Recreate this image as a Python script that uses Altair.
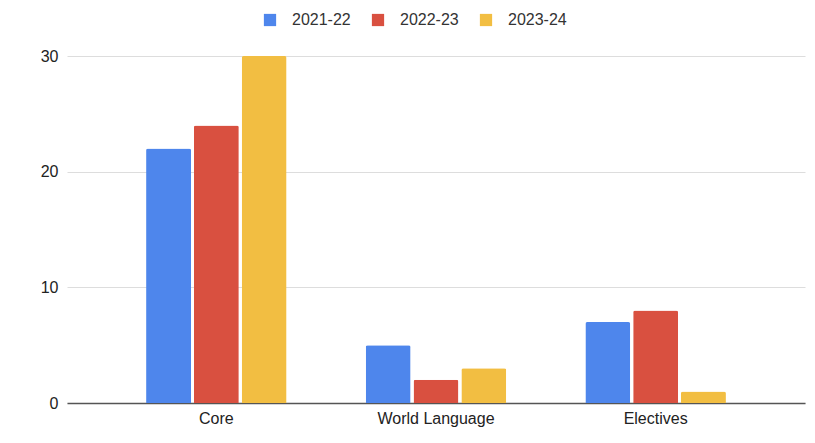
import altair as alt
import pandas as pd

categories = ["Core", "World Language", "Electives"]
years = ["2021-22", "2022-23", "2023-24"]
v2021 = [22, 5, 7]
v2022 = [24, 2, 8]
v2023 = [30, 3, 1]
colors = ["#4e86ec", "#d95040", "#f2be42"]

rows = []
for i, c in enumerate(categories):
    for y, vals in zip(years, [v2021, v2022, v2023]):
        rows.append({"category": c, "year": y, "value": vals[i]})
df = pd.DataFrame(rows)

chart = alt.Chart(df).mark_bar(
    cornerRadiusTopLeft=2, cornerRadiusTopRight=2
).encode(
    x=alt.X("category:N", sort=categories, title=None,
            scale=alt.Scale(paddingInner=0.36, paddingOuter=0.36),
            axis=alt.Axis(labelAngle=0, ticks=False, domain=True, domainColor="#555",
                          domainWidth=1.5, labelPadding=7, labelFontSize=16,
                          labelColor="#222", labelFont="Liberation Sans", grid=False)),
    xOffset=alt.XOffset("year:N", sort=years, scale=alt.Scale(paddingInner=0.06)),
    y=alt.Y("value:Q", title=None,
            scale=alt.Scale(domain=[0, 30], nice=False),
            axis=alt.Axis(values=[0, 10, 20, 30], ticks=False, domain=False,
                          gridColor="#dddddd", gridWidth=1, labelPadding=9,
                          labelFontSize=16, labelColor="#222", labelFont="Liberation Sans")),
    color=alt.Color("year:N", sort=years,
                    scale=alt.Scale(domain=years, range=colors),
                    legend=alt.Legend(title=None, orient="none", direction="horizontal",
                                      legendX=195, legendY=-44, symbolType="square",
                                      symbolSize=150, symbolStrokeWidth=0,
                                      labelFontSize=16, labelColor="#333",
                                      labelFont="Liberation Sans", labelOffset=14,
                                      columnPadding=19)),
).properties(
    width=738, height=347,
    autosize="none",
    padding={"left": 67, "top": 56, "right": 10, "bottom": 40},
).configure_view(stroke=None)

chart.save("out.html", embed_options={"renderer": "svg", "actions": False})
